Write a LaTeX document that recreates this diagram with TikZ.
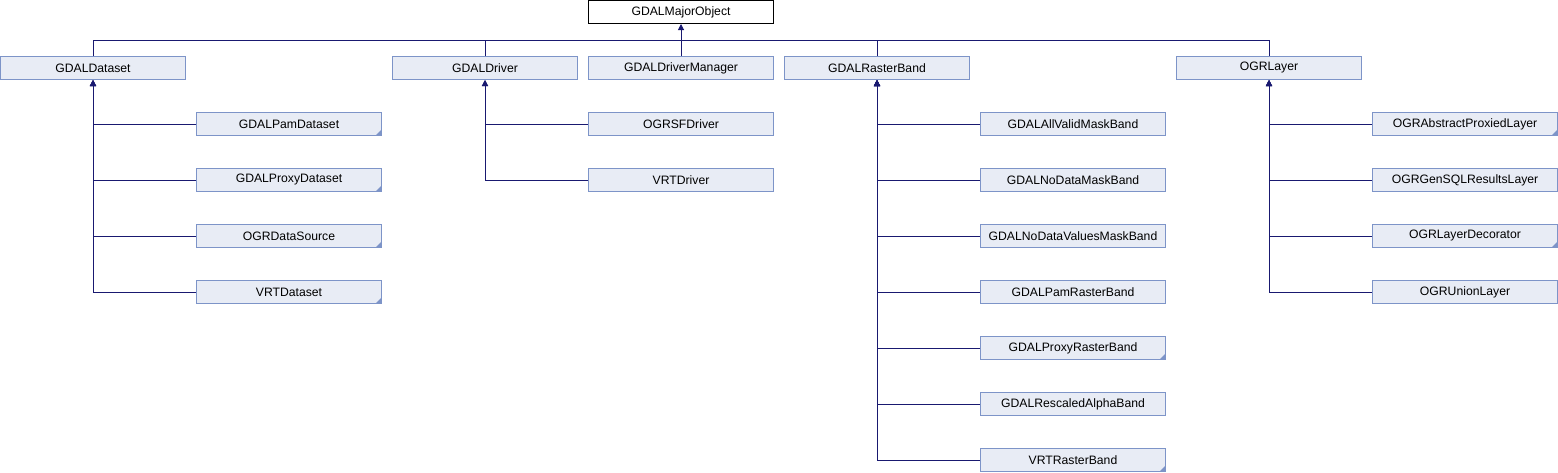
\documentclass[tikz,border=0pt]{standalone}
\usepackage{fontspec}
\setmainfont{Liberation Sans}
\usepackage{tikz}
\usetikzlibrary{positioning,arrows.meta}
\definecolor{EdgeBlue}{RGB}{25,25,112}
\definecolor{BoxFill}{RGB}{232,236,245}
\definecolor{BoxBorder}{RGB}{125,148,200}
\tikzset{
    classnode/.style={rectangle, draw=BoxBorder, fill=BoxFill, line width=1pt, minimum width=185pt, minimum height=23pt, inner sep=0pt, font=\fontsize{12.2}{14}\selectfont},
    rootnode/.style={classnode, draw=black, fill=white},
    morenode/.style={classnode, path picture={\fill[BoxBorder] (path picture bounding box.south east) -- ++(-6pt,0pt) -- ++(6pt,6pt) -- cycle;}},
    inherit/.style={draw=EdgeBlue, line width=1pt, {Triangle[width=6pt,length=6pt]}-}
}

\begin{document}
\begin{tikzpicture}[x=1pt, y=-1pt]
    \useasboundingbox (0,0) rectangle (1558,472);

    % 1. BASE CLASS
    \node[rootnode] (GDALMajorObject) at (681,12) {GDALMajorObject};
    \coordinate (bus) at (681,40.5);

    % 2. DIRECT SUBCLASSES
    \node[classnode] (GDALDataset) at (93,68) {GDALDataset};
    \node[classnode] (GDALDriver) at (485,68) {GDALDriver};
    \node[classnode] (GDALDriverManager) at (681,68) {GDALDriverManager};
    \node[classnode] (GDALRasterBand) at (877,68) {GDALRasterBand};
    \node[classnode] (OGRLayer) at (1269,68) {OGRLayer};

    % 3. SECOND LEVEL
    \node[morenode] (GDALPamDataset) at (289,124) {GDALPamDataset};
    \node[morenode] (GDALProxyDataset) at (289,180) {GDALProxyDataset};
    \node[morenode] (OGRDataSource) at (289,236) {OGRDataSource};
    \node[morenode] (VRTDataset) at (289,292) {VRTDataset};

    \node[classnode] (OGRSFDriver) at (681,124) {OGRSFDriver};
    \node[classnode] (VRTDriver) at (681,180) {VRTDriver};

    \node[classnode] (GDALAllValidMaskBand) at (1073,124) {GDALAllValidMaskBand};
    \node[classnode] (GDALNoDataMaskBand) at (1073,180) {GDALNoDataMaskBand};
    \node[classnode] (GDALNoDataValuesMaskBand) at (1073,236) {GDALNoDataValuesMaskBand};
    \node[classnode] (GDALPamRasterBand) at (1073,292) {GDALPamRasterBand};
    \node[morenode] (GDALProxyRasterBand) at (1073,348) {GDALProxyRasterBand};
    \node[classnode] (GDALRescaledAlphaBand) at (1073,404) {GDALRescaledAlphaBand};
    \node[morenode] (VRTRasterBand) at (1073,460) {VRTRasterBand};

    \node[morenode] (OGRAbstractProxiedLayer) at (1465,124) {OGRAbstractProxiedLayer};
    \node[classnode] (OGRGenSQLResultsLayer) at (1465,180) {OGRGenSQLResultsLayer};
    \node[morenode] (OGRLayerDecorator) at (1465,236) {OGRLayerDecorator};
    \node[classnode] (OGRUnionLayer) at (1465,292) {OGRUnionLayer};

    % 4. INHERITANCE EDGES
    \draw[inherit] (GDALMajorObject.south) -- (bus);
    \foreach \c in {GDALDataset,GDALDriver,GDALDriverManager,GDALRasterBand,OGRLayer}
        \draw[draw=EdgeBlue, line width=1pt] (\c.north) |- (bus);

    \foreach \c in {GDALPamDataset,GDALProxyDataset,OGRDataSource,VRTDataset}
        \draw[inherit] (GDALDataset.south) |- (\c.west);
    \foreach \c in {OGRSFDriver,VRTDriver}
        \draw[inherit] (GDALDriver.south) |- (\c.west);
    \foreach \c in {GDALAllValidMaskBand,GDALNoDataMaskBand,GDALNoDataValuesMaskBand,GDALPamRasterBand,GDALProxyRasterBand,GDALRescaledAlphaBand,VRTRasterBand}
        \draw[inherit] (GDALRasterBand.south) |- (\c.west);
    \foreach \c in {OGRAbstractProxiedLayer,OGRGenSQLResultsLayer,OGRLayerDecorator,OGRUnionLayer}
        \draw[inherit] (OGRLayer.south) |- (\c.west);

\end{tikzpicture}
\end{document}
